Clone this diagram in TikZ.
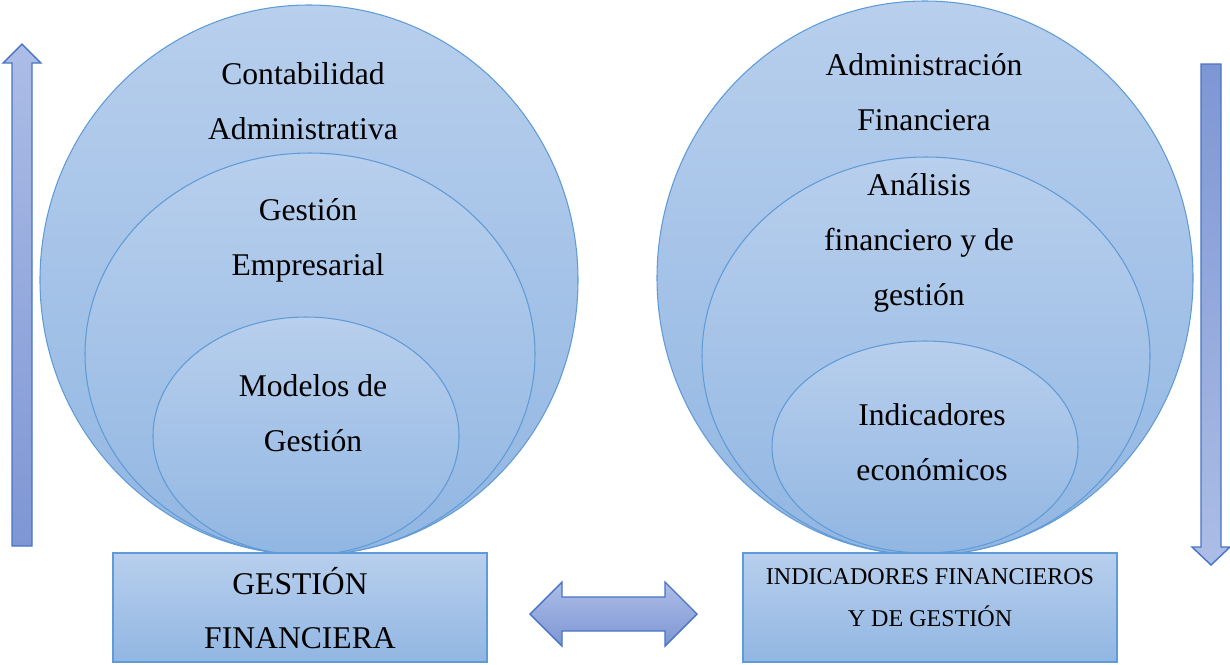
\documentclass[tikz,border=0pt]{standalone}
\usepackage{fontspec}
\setmainfont{Liberation Serif}

\definecolor{bubbletop}{RGB}{184,207,237}
\definecolor{bubblebot}{RGB}{145,182,226}
\definecolor{bubbleline}{RGB}{95,155,215}
\definecolor{arrowtop}{RGB}{172,189,230}
\definecolor{arrowbot}{RGB}{126,150,212}
\definecolor{arrowline}{RGB}{72,116,198}

\begin{document}
\begin{tikzpicture}[x=0.02cm,y=-0.02cm,
    bubble/.style={draw=bubbleline,line width=0.6pt,top color=bubbletop,bottom color=bubblebot},
    basebox/.style={draw=bubbleline,line width=0.8pt,top color=bubbletop,bottom color=bubblebot},
    bigarrow/.style={draw=arrowline,line width=0.8pt,line join=miter},
    txt/.style={font=\fontsize{18}{31.2}\selectfont,align=center,inner sep=0pt},
    smalltxt/.style={font=\fontsize{13.7}{23.8}\selectfont,align=center,inner sep=0pt}]
  \useasboundingbox (0,0) rectangle (1230,664);

  % left group
  \draw [bubble] (309,280) ellipse (269 and 275);
  \draw [bubble] (310,354) ellipse (225 and 201);
  \draw [bubble] (306,436) ellipse (153 and 119);
  \node [txt] (contab) at (303,101) {Contabilidad\\Administrativa};
  \node [txt] (gestemp) at (308,240) {Gestión\\Empresarial};
  \node [txt] (modelos) at (313,413) {Modelos de\\Gestión};

  % right group
  \draw [bubble] (925,278) ellipse (268 and 277);
  \draw [bubble] (926,356) ellipse (224 and 199);
  \draw [bubble] (925,447) ellipse (153 and 106);
  \node [txt] (adminfin) at (924,92) {Administración\\Financiera};
  \node [txt] (analisis) at (919,243) {Análisis\\financiero y de\\gestión};
  \node [txt] (indic) at (932,442) {Indicadores\\económicos};

  % bottom boxes
  \draw [basebox] (113,553) rectangle (487,662);
  \draw [basebox] (743,553) rectangle (1117,662);
  \node [txt] (gestfin) at (300,608) {GESTIÓN\\FINANCIERA};
  \node [smalltxt] (indfin) at (930,598) {INDICADORES FINANCIEROS\\Y DE GESTIÓN};

  % arrows
  \path [bigarrow,top color=arrowtop,bottom color=arrowbot]
    (12,546) -- (12,63) -- (3,63) -- (22,44) -- (41,63) -- (32,63) -- (32,546) -- cycle;
  \path [bigarrow,top color=arrowbot,bottom color=arrowtop]
    (1201,64) -- (1201,547) -- (1192,547) -- (1211,565) -- (1230,547) -- (1221,547) -- (1221,64) -- cycle;
  \path [bigarrow,top color=arrowtop,bottom color=arrowbot]
    (530,614) -- (562,582) -- (562,597) -- (665,597) -- (665,582) -- (697,614)
    -- (665,646) -- (665,631) -- (562,631) -- (562,646) -- cycle;
\end{tikzpicture}
\end{document}
